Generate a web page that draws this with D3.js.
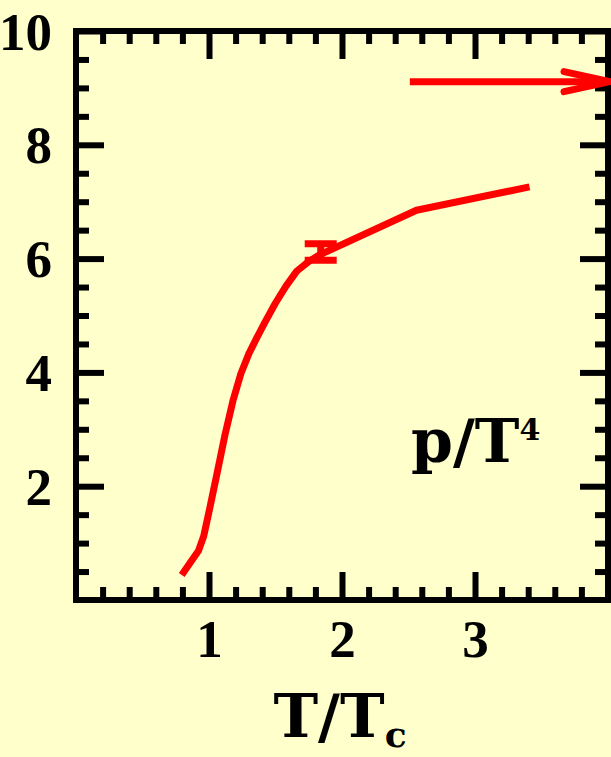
<!DOCTYPE html>
<html>
<head>
<meta charset="utf-8">
<script src="https://cdn.jsdelivr.net/npm/d3@7"></script>
<style>
  html, body { margin: 0; padding: 0; background: #ffffcc; }
  svg { display: block; }
</style>
</head>
<body>
<svg id="chart" width="611" height="757"></svg>
<script>
// Pressure over T^4 versus T/Tc
const tOverTc = [0.795, 0.857, 0.920, 0.960, 1.000, 1.060, 1.120, 1.180, 1.240, 1.300, 1.360, 1.420, 1.500, 1.580, 1.660, 1.750, 1.835, 2.560, 3.410];
const pOverT4 = [0.44, 0.65, 0.86, 1.12, 1.55, 2.22, 2.90, 3.50, 3.98, 4.33, 4.61, 4.88, 5.22, 5.52, 5.78, 5.95, 6.07, 6.85, 7.26];

// single point with error bar
const errT = [1.84];
const errP = [6.115];
const errDelta = [0.145];

// Stefan-Boltzmann limit arrow
const sbLimit = [9.11];
const sbStart = [2.51];

const xTicks = [1, 2, 3];
const xTickLabels = ["1", "2", "3"];
const yTicks = [2, 4, 6, 8, 10];
const yTickLabels = ["2", "4", "6", "8", "10"];

const svg = d3.select("#chart");
const x = d3.scaleLinear().domain([0, 4]).range([76, 608]);
const y = d3.scaleLinear().domain([0, 10]).range([600, 31]);

const red = "#ff0000";
const majorLen = 28, minorLen = 13, tickW = 6;
const tickFont = "'Liberation Serif', serif";
const titleFont = "'DejaVu Serif', serif";

const xMinor = d3.range(0, 4.0001, 0.2).filter(v => Math.abs(v - Math.round(v)) > 1e-6);
const yMinor = d3.range(0, 10.0001, 0.5).filter(v => Math.abs(v / 2 - Math.round(v / 2)) > 1e-6);

function styleAxis(g) {
  g.select(".domain").remove();
  g.selectAll(".tick line").attr("stroke", "#000").attr("stroke-width", tickW);
}
function styleLabels(g) {
  g.selectAll("text")
    .style("font-family", tickFont).style("font-weight", "bold")
    .style("font-size", "53px").style("fill", "#000");
}

// bottom axis (major with labels, minor without)
svg.append("g").attr("transform", `translate(0,${y(0)})`)
  .call(d3.axisBottom(x).tickValues(xTicks).tickFormat((d, i) => xTickLabels[i])
    .tickSizeInner(-majorLen).tickSizeOuter(0).tickPadding(19))
  .call(styleAxis).call(styleLabels);
svg.append("g").attr("transform", `translate(0,${y(0)})`)
  .call(d3.axisBottom(x).tickValues(xMinor).tickFormat("").tickSizeInner(-minorLen).tickSizeOuter(0))
  .call(styleAxis);

// top axis
svg.append("g").attr("transform", `translate(0,${y(10)})`)
  .call(d3.axisTop(x).tickValues(xTicks).tickFormat("").tickSizeInner(-majorLen).tickSizeOuter(0))
  .call(styleAxis);
svg.append("g").attr("transform", `translate(0,${y(10)})`)
  .call(d3.axisTop(x).tickValues(xMinor).tickFormat("").tickSizeInner(-minorLen).tickSizeOuter(0))
  .call(styleAxis);

// left axis
svg.append("g").attr("transform", `translate(${x(0)},0)`)
  .call(d3.axisLeft(y).tickValues(yTicks).tickFormat((d, i) => yTickLabels[i])
    .tickSizeInner(-majorLen).tickSizeOuter(0).tickPadding(24))
  .call(styleAxis).call(styleLabels)
  .call(g => g.selectAll("text").attr("dy", "0.34em"));
svg.append("g").attr("transform", `translate(${x(0)},0)`)
  .call(d3.axisLeft(y).tickValues(yMinor).tickFormat("").tickSizeInner(-minorLen).tickSizeOuter(0))
  .call(styleAxis);

// right axis
svg.append("g").attr("transform", `translate(${x(4)},0)`)
  .call(d3.axisRight(y).tickValues(yTicks).tickFormat("").tickSizeInner(-majorLen).tickSizeOuter(0))
  .call(styleAxis);
svg.append("g").attr("transform", `translate(${x(4)},0)`)
  .call(d3.axisRight(y).tickValues(yMinor).tickFormat("").tickSizeInner(-minorLen).tickSizeOuter(0))
  .call(styleAxis);

// frame
svg.append("rect")
  .attr("x", x(0)).attr("y", y(10))
  .attr("width", x(4) - x(0)).attr("height", y(0) - y(10))
  .attr("fill", "none").attr("stroke", "#000").attr("stroke-width", 6);

// curve
const pts = tOverTc.map((t, i) => [t, pOverT4[i]]);
svg.append("path")
  .datum(pts)
  .attr("d", d3.line().x(d => x(d[0])).y(d => y(d[1])))
  .attr("fill", "none").attr("stroke", red).attr("stroke-width", 7)
  .attr("stroke-linejoin", "round").attr("stroke-linecap", "butt");

// error bar
errT.forEach((t, i) => {
  const g = svg.append("g").attr("stroke", red).attr("stroke-width", 7);
  const cx = x(t), cap = 16;
  [errP[i] + errDelta[i], errP[i] - errDelta[i]].forEach(v => {
    g.append("line").attr("x1", cx - cap).attr("x2", cx + cap).attr("y1", y(v)).attr("y2", y(v));
  });
  g.append("line").attr("x1", cx).attr("x2", cx)
    .attr("y1", y(errP[i] + errDelta[i])).attr("y2", y(errP[i] - errDelta[i]));
});

// arrow to the Stefan-Boltzmann limit
sbLimit.forEach((v, i) => {
  const g = svg.append("g").attr("stroke", red).attr("fill", "none")
    .attr("stroke-width", 7);
  const tipX = x(4) + 2, yy = y(v);
  g.append("line").attr("x1", x(sbStart[i])).attr("x2", tipX - 3).attr("y1", yy).attr("y2", yy);
  g.append("path")
    .attr("d", `M${tipX - 46},${yy - 10} L${tipX},${yy} L${tipX - 46},${yy + 10}`)
    .attr("stroke-linecap", "round").attr("stroke-linejoin", "round");
});

// in-plot label
const lbl = svg.append("text").attr("x", 411).attr("y", 462)
  .style("font-family", titleFont).style("font-weight", "bold").style("font-size", "60px").style("fill", "#000");
lbl.append("tspan").text("p/T");
lbl.append("tspan").style("font-size", "30px").attr("dy", -22).text("4");

// x-axis title
const xt = svg.append("text").attr("x", 340).attr("y", 737).attr("text-anchor", "middle")
  .style("font-family", titleFont).style("font-weight", "bold").style("font-size", "60px").style("fill", "#000");
xt.append("tspan").text("T/T");
xt.append("tspan").style("font-size", "36px").attr("dy", 10).text("c");
</script>
</body>
</html>
